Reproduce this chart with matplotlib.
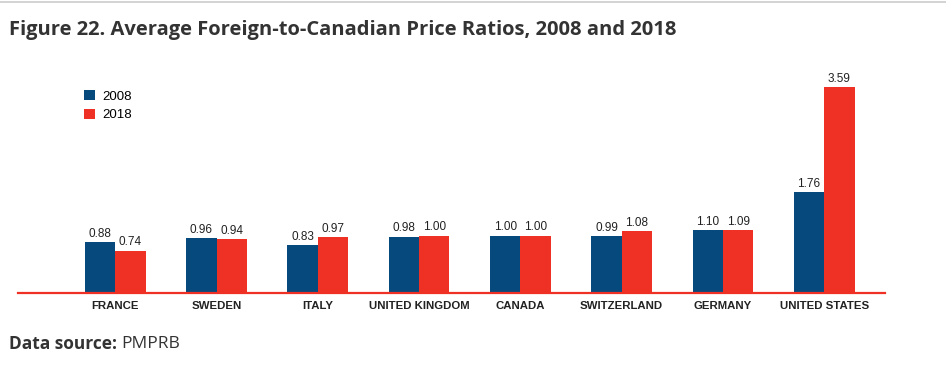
import numpy as np
import matplotlib.pyplot as plt

countries = ["FRANCE", "SWEDEN", "ITALY", "UNITED KINGDOM", "CANADA",
             "SWITZERLAND", "GERMANY", "UNITED STATES"]
ratios_2008 = [0.88, 0.96, 0.83, 0.98, 1.00, 0.99, 1.10, 1.76]
ratios_2018 = [0.74, 0.94, 0.97, 1.00, 1.00, 1.08, 1.09, 3.59]
years = ["2008", "2018"]

blue = "#064a7d"
red = "#ee3124"
narrow = ["Liberation Sans Narrow", "Liberation Sans", "DejaVu Sans"]

W, H = 946, 366
fig = plt.figure(figsize=(W / 100, H / 100), dpi=100)

# axes placed in pixel terms of the reference
left, right, base, top = 18, 885, 293, 70
ax = fig.add_axes([left / W, (H - base) / H, (right - left) / W, (base - top) / H])

x = np.arange(len(countries))
w = 0.3
b1 = ax.bar(x - w / 2, ratios_2008, w, color=blue, label=years[0])
b2 = ax.bar(x + w / 2, ratios_2018, w, color=red, label=years[1])

for bars in (b1, b2):
    for r in bars:
        ax.text(r.get_x() + r.get_width() / 2, r.get_height() + 0.04,
                f"{r.get_height():.2f}", ha="center", va="bottom",
                fontsize=8.5, family=narrow, color="#222222")

ax.set_xlim(-0.96, 7.6)
ax.set_ylim(0, (base - top) / 57.4)
ax.set_xticks(x)
ax.set_xticklabels(countries, fontsize=8.2, family=narrow, fontweight="bold", color="#222222")
ax.tick_params(axis="x", length=0, pad=6)
ax.set_yticks([])
for s in ["top", "right", "left"]:
    ax.spines[s].set_visible(False)
ax.spines["bottom"].set_color(red)
ax.spines["bottom"].set_linewidth(1.6)

leg = ax.legend(loc="upper left", bbox_to_anchor=((84 - left) / (right - left), 1 - (90 - top) / (base - top)),
                frameon=False, handlelength=0.8, handleheight=0.8, handletextpad=0.6,
                labelspacing=0.45, borderaxespad=0, borderpad=0,
                prop={"family": narrow, "size": 9.5})

fig.text(9 / W, 1 - 30 / H, "Figure 22. Average Foreign-to-Canadian Price Ratios, 2008 and 2018",
         fontsize=14.5, fontweight="bold", family=["Open Sans", "DejaVu Sans"],
         color="#333333", va="center", ha="left")
t = fig.text(9 / W, 1 - 344 / H, "Data source:", fontsize=12.5, fontweight="bold",
             family=["Open Sans", "DejaVu Sans"], color="#333333", va="center", ha="left")
fig.canvas.draw()
bb = t.get_window_extent()
fig.text(bb.x1 / W + 4 / W, 1 - 344 / H, "PMPRB", fontsize=12.5,
         family=["Open Sans", "DejaVu Sans"], color="#333333", va="center", ha="left")

fig.add_artist(plt.Line2D([0, 1], [1 - 2 / H, 1 - 2 / H], color="#cccccc", lw=1.2))

fig.savefig("out.png", dpi=100)
